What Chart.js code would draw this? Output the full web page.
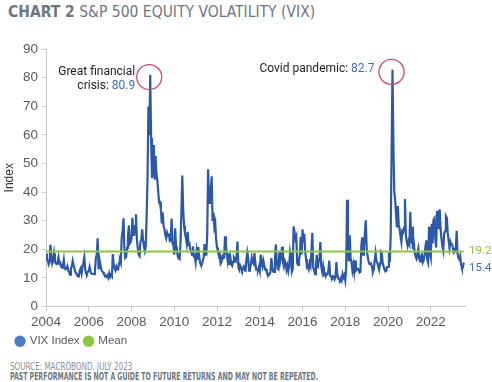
<!DOCTYPE html>
<html>
<head>
<meta charset="utf-8">
<script src="https://cdn.jsdelivr.net/npm/chart.js@4.4.0/dist/chart.umd.min.js"></script>
<style>
  html, body { margin: 0; padding: 0; background: #fff; }
  body { width: 492px; height: 382px; position: relative; overflow: hidden; font-family: 'Roboto', 'Liberation Sans', sans-serif; }
  .title { position: absolute; left: 8px; top: 3px; font-size: 15.5px; color: #6d7682; white-space: nowrap;
           font-family: 'Liberation Sans Narrow', 'DejaVu Sans Condensed', 'Roboto', sans-serif; }
  .title b { font-weight: 700; }
  .wrap { position: absolute; left: 0; top: 26px; width: 492px; height: 331px; }
  .src { position: absolute; left: 10px; font-family: 'Liberation Sans Narrow', 'DejaVu Sans Condensed', 'Roboto', sans-serif;
         font-size: 10px; color: #8a8f96; white-space: nowrap; line-height: 11px; transform-origin: 0 50%; }
  .src.b { font-weight: 700; color: #6d7682; }
</style>
</head>
<body>
<div class="title"><b>CHART 2</b> S&amp;P 500 EQUITY VOLATILITY (VIX)</div>
<div class="wrap"><canvas id="vixChart"></canvas></div>
<div class="src" style="top:361px; transform: scaleX(0.8)">SOURCE: MACROBOND, JULY 2023</div>
<div class="src b" style="top:371px; transform: scaleX(0.69)">PAST PERFORMANCE IS NOT A GUIDE TO FUTURE RETURNS AND MAY NOT BE REPEATED.</div>
<script>
// VIX, two readings a month, starting Jan 2004
const startYear = 2004;
const stepsPerYear = 24;
const vixValues = [
  // 2004
  18.5, 16.3, 16.0, 14.7, 15.5, 21.6, 17.3, 15.0, 16.0, 18.5, 15.8, 15.0, 14.8, 15.5, 17.2, 15.0, 15.3, 14.0, 13.6, 14.3, 16.3, 13.2, 13.0, 13.3,
  // 2005
  14.1, 12.6, 12.0, 11.1, 13.4, 14.0, 15.9, 14.3, 13.2, 12.0, 11.6, 10.9, 10.5, 11.0, 12.6, 13.3, 11.6, 13.9, 15.3, 17.2, 13.0, 11.5, 11.3, 12.1,
  // 2006
  12.4, 13.8, 12.3, 11.5, 11.4, 11.4, 11.3, 12.8, 17.0, 18.3, 23.8, 13.0, 16.5, 14.7, 13.0, 12.2, 12.0, 11.4, 11.0, 10.6, 10.3, 10.9, 10.1, 11.6,
  // 2007
  10.4, 11.1, 10.6, 18.3, 14.6, 13.3, 12.6, 14.0, 13.1, 13.0, 15.2, 16.2, 15.2, 24.1, 26.5, 30.8, 20.4, 17.0, 17.4, 20.5, 24.0, 28.4, 22.0, 22.5,
  // 2008
  23.7, 31.0, 25.0, 25.0, 28.1, 32.2, 23.5, 20.4, 18.1, 17.6, 22.6, 23.4, 27.0, 23.0, 21.0, 19.4, 21.0, 31.7, 45.1, 69.9, 59.9, 80.9, 58.9, 44.9,
  // 2009
  48.0, 56.4, 44.3, 52.6, 46.5, 44.1, 40.0, 36.4, 36.5, 33.9, 29.0, 32.9, 28.0, 27.0, 25.0, 23.9, 25.8, 24.8, 25.5, 22.9, 23.1, 30.7, 22.0, 21.7,
  // 2010
  18.1, 27.3, 21.0, 19.5, 17.5, 16.9, 16.6, 22.1, 32.8, 45.8, 34.0, 28.2, 25.6, 24.0, 22.0, 26.1, 21.7, 22.0, 19.9, 19.1, 18.0, 21.0, 17.6, 17.8,
  // 2011
  15.5, 19.1, 16.4, 20.8, 17.6, 15.3, 14.6, 14.7, 16.0, 17.1, 21.8, 18.1, 18.1, 25.3, 48.0, 36.2, 41.3, 40.8, 45.5, 29.9, 32.8, 27.8, 29.2, 23.4,
  // 2012
  20.6, 19.4, 17.8, 18.4, 15.0, 15.6, 17.5, 16.8, 17.1, 24.5, 21.7, 18.3, 16.0, 18.6, 14.5, 17.1, 14.9, 14.3, 15.6, 17.1, 16.4, 15.9, 17.8, 22.7,
  // 2013
  13.6, 12.8, 14.3, 13.6, 12.7, 13.3, 13.9, 12.6, 12.5, 16.3, 18.9, 16.9, 12.5, 13.4, 14.6, 17.0, 15.5, 15.0, 18.7, 15.2, 12.9, 12.9, 12.7, 13.8,
  // 2014
  12.4, 18.1, 15.5, 14.0, 16.0, 14.4, 13.0, 13.0, 12.0, 11.4, 10.9, 11.3, 12.1, 16.9, 13.5, 12.2, 12.1, 15.9, 21.7, 16.1, 13.3, 13.0, 19.0, 16.0,
  // 2015
  17.8, 20.9, 15.4, 14.0, 16.0, 15.3, 12.9, 14.2, 12.4, 14.3, 18.9, 16.8, 12.1, 13.0, 28.0, 26.1, 23.6, 24.5, 15.1, 14.5, 16.4, 18.0, 24.4, 18.2,
  // 2016
  27.0, 22.4, 25.4, 19.1, 16.5, 13.8, 14.2, 13.1, 15.2, 14.2, 19.4, 25.8, 13.5, 12.7, 11.3, 13.6, 18.1, 13.3, 15.7, 16.5, 22.5, 14.0, 12.2, 14.0,
  // 2017
  11.2, 11.6, 10.6, 11.4, 11.3, 12.5, 16.0, 10.8, 10.4, 10.0, 10.6, 10.4, 9.5, 10.3, 15.5, 11.3, 9.9, 9.5, 9.2, 9.9, 9.1, 11.3, 10.2, 11.0,
  // 2018
  9.2, 13.5, 37.3, 19.3, 15.8, 24.9, 16.9, 15.4, 12.6, 14.6, 12.1, 16.1, 12.6, 13.0, 13.2, 12.9, 11.9, 12.1, 21.3, 24.2, 18.1, 21.0, 25.6, 30.1,
  // 2019
  20.5, 17.8, 16.0, 14.9, 14.8, 15.0, 13.7, 12.0, 12.9, 16.0, 18.7, 15.8, 15.3, 14.0, 12.9, 15.1, 19.0, 18.5, 15.3, 14.0, 13.0, 12.3, 12.5, 13.8,
  // 2020
  13.9, 18.8, 15.5, 25.0, 54.5, 82.7, 57.1, 40.1, 37.2, 31.9, 27.6, 35.1, 28.6, 27.0, 24.5, 22.5, 26.4, 26.0, 27.6, 37.6, 24.9, 22.7, 21.2, 22.8,
  // 2021
  21.9, 33.1, 22.0, 27.9, 20.0, 21.9, 18.9, 17.3, 16.6, 18.6, 20.2, 16.8, 15.8, 17.6, 18.2, 15.4, 16.1, 17.8, 21.0, 23.1, 16.3, 15.3, 27.9, 18.8,
  // 2022
  17.2, 28.9, 22.0, 30.3, 30.8, 23.9, 20.6, 33.4, 30.2, 27.0, 34.0, 27.2, 23.6, 21.1, 19.5, 25.6, 26.3, 31.6, 31.0, 25.8, 23.1, 20.5, 22.6, 21.7,
  // 2023 (to early July)
  21.7, 19.9, 19.4, 20.0, 19.6, 26.5, 18.7, 17.0, 16.5, 17.6, 14.6, 13.4, 13.6, 15.4
];
const meanValue = 19.2;
const xTickYears = [2004, 2006, 2008, 2010, 2012, 2014, 2016, 2018, 2020, 2022];
const yTickValues = [0, 10, 20, 30, 40, 50, 60, 70, 80, 90];
const seriesNames = ['VIX Index', 'Mean'];
const annotations = [
  { x: 2008 + 21 / 24, y: 80.9, lines: ['Great financial', 'crisis: '], value: '80.9' },
  { x: 2020 + 5 / 24, y: 82.7, lines: ['Covid pandemic: '], value: '82.7' }
];

const blue = '#2c58a8';
const blueText = '#3d6fc4';
const green = '#8cc63f';
const circleRed = '#d0457a';

const vixPoints = vixValues.map((v, i) => ({ x: startYear + i / stepsPerYear, y: v }));
const lastPoint = vixPoints[vixPoints.length - 1];
const meanPoints = [{ x: startYear, y: meanValue }, { x: lastPoint.x, y: meanValue }];

const annotationPlugin = {
    id: 'vixNotes',
    afterDatasetsDraw(chart) {
        const ctx = chart.ctx;
        const xs = chart.scales.x;
        const ys = chart.scales.y;
        ctx.save();
        ctx.font = '12px Roboto, sans-serif';
        ctx.textBaseline = 'middle';
        annotations.forEach((a, k) => {
            const px = xs.getPixelForValue(a.x);
            const py = ys.getPixelForValue(a.y);
            // circle round the peak
            ctx.beginPath();
            ctx.strokeStyle = circleRed;
            ctx.lineWidth = 1.3;
            ctx.arc(px - 1, py + 2, 12.5, 0, Math.PI * 2);
            ctx.stroke();
            const right = px - (k === 0 ? 15 : 18);
            const baseY = k === 0 ? py - 3 : py - 1;
            a.lines.forEach((txt, j) => {
                const y = baseY + j * 14;
                const isLast = j === a.lines.length - 1;
                ctx.textAlign = 'right';
                if (isLast) {
                    ctx.fillStyle = blueText;
                    ctx.fillText(a.value, right, y);
                    const vw = ctx.measureText(a.value).width;
                    ctx.fillStyle = '#1e1e1e';
                    ctx.fillText(txt, right - vw, y);
                } else {
                    ctx.fillStyle = '#1e1e1e';
                    ctx.fillText(txt, right, y);
                }
            });
        });
        // end labels
        const ex = chart.chartArea.right + 4;
        ctx.textAlign = 'left';
        ctx.font = '11.5px Roboto, sans-serif';
        ctx.fillStyle = green;
        ctx.fillText(meanValue.toFixed(1), ex, ys.getPixelForValue(meanValue));
        ctx.fillStyle = blueText;
        ctx.fillText(lastPoint.y.toFixed(1), ex, ys.getPixelForValue(lastPoint.y) + 6);
        ctx.restore();
    }
};

const axisGray = '#c9c9c9';
const tickGray = '#5a5a5a';

new Chart(document.getElementById('vixChart'), {
    type: 'line',
    data: {
        datasets: [{
            label: seriesNames[0],
            data: vixPoints,
            borderColor: blue,
            backgroundColor: '#4a7ccb',
            borderWidth: 2.2,
            pointRadius: 0,
            tension: 0,
            order: 2
        }, {
            label: seriesNames[1],
            data: meanPoints,
            borderColor: green,
            backgroundColor: green,
            borderWidth: 2,
            pointRadius: 0,
            order: 1
        }]
    },
    options: {
        responsive: true,
        maintainAspectRatio: false,
        animation: false,
        parsing: false,
        layout: { padding: { top: 23, right: 27, left: 11, bottom: 0 } },
        scales: {
            x: {
                type: 'linear',
                min: 2004,
                max: 2023.6,
                afterBuildTicks: axis => { axis.ticks = xTickYears.map(v => ({ value: v })); },
                afterFit: axis => { axis.height = 24; },
                grid: { drawOnChartArea: false, color: axisGray, tickLength: 5 },
                border: { color: axisGray },
                ticks: { color: tickGray, font: { size: 13.5 }, padding: 3, maxRotation: 0, callback: v => String(v) }
            },
            y: {
                min: 0,
                max: 90,
                afterBuildTicks: axis => { axis.ticks = yTickValues.map(v => ({ value: v })); },
                afterFit: axis => { axis.width = 35; },
                grid: { drawOnChartArea: false, color: axisGray, tickLength: 4 },
                border: { color: axisGray },
                ticks: { color: tickGray, font: { size: 13.5 }, padding: 4 },
                title: { display: true, text: 'Index', color: '#333', font: { size: 12 }, padding: { top: -9, bottom: 0 } }
            }
        },
        plugins: {
            tooltip: { enabled: false },
            legend: {
                position: 'bottom',
                align: 'start',
                labels: {
                    usePointStyle: true,
                    pointStyle: 'circle',
                    boxWidth: 8,
                    boxHeight: 8,
                    padding: 5,
                    color: tickGray,
                    font: { size: 11.5 },
                    sort: (a, b) => a.datasetIndex - b.datasetIndex,
                    generateLabels: chart => Chart.defaults.plugins.legend.labels.generateLabels(chart)
                        .map(item => Object.assign(item, { lineWidth: 0 }))
                }
            }
        }
    },
    plugins: [annotationPlugin]
});
</script>
</body>
</html>
